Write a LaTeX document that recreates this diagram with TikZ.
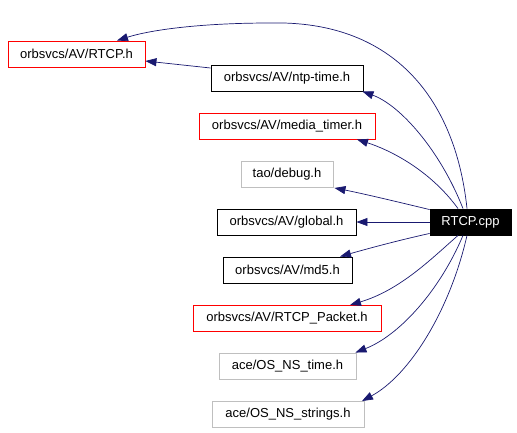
\documentclass[tikz,border=0pt]{standalone}
\usepackage{fontspec}
\setmainfont{Liberation Sans}
\usetikzlibrary{arrows.meta}
\definecolor{edgeblue}{RGB}{25,25,112}
\definecolor{boxred}{RGB}{255,0,0}
\definecolor{boxgray}{RGB}{191,191,191}
\tikzset{
  filebox/.style={draw, line width=0.9pt, inner sep=0pt, minimum height=26pt, font=\fontsize{13}{15}\selectfont},
  redbox/.style={filebox, draw=boxred},
  blackbox/.style={filebox, draw=black},
  graybox/.style={filebox, draw=boxgray},
  mainbox/.style={filebox, draw=black, fill=black, text=white},
  dep/.style={draw=edgeblue, line width=0.7pt, -{Triangle[length=11pt,width=8pt]}, fill=none},
}
\begin{document}
\begin{tikzpicture}[x=1pt,y=-1pt]
\path[use as bounding box] (0,0) rectangle (517,432);
\node[redbox,   minimum width=137pt] (rtcph)  at (76.5,54)  {orbsvcs/AV/RTCP.h};
\node[blackbox, minimum width=152pt] (ntp)    at (287,78)   {orbsvcs/AV/ntp-time.h};
\node[redbox,   minimum width=176pt] (media)  at (287,126)  {orbsvcs/AV/media\_timer.h};
\node[graybox,  minimum width=92pt]  (debug)  at (287,174.5){tao/debug.h};
\node[blackbox, minimum width=139pt] (global) at (286.5,222){orbsvcs/AV/global.h};
\node[mainbox,  minimum width=81pt]  (cpp)    at (470.5,222){RTCP.cpp};
\node[blackbox, minimum width=129pt] (md5)    at (287.5,270){orbsvcs/AV/md5.h};
\node[redbox,   minimum width=188pt] (packet) at (287,318.5){orbsvcs/AV/RTCP\_Packet.h};
\node[graybox,  minimum width=137pt] (ostime) at (287.5,366){ace/OS\_NS\_time.h};
\node[graybox,  minimum width=152pt] (osstr)  at (288,414.5){ace/OS\_NS\_strings.h};

\draw[dep] ([xshift=-3.5pt]cpp.north) .. controls (455,95) and (390,20) .. (270,23)
  .. controls (200,23) and (150,30) .. ([xshift=40.5pt]rtcph.north);
\draw[dep] ([yshift=10pt]ntp.west) -- ([yshift=-7pt]rtcph.east);
\draw[dep] ([xshift=-7.5pt]cpp.north) .. controls (440,150) and (400,105) .. ([xshift=-1pt]ntp.south east);
\draw[dep] ([xshift=-12.5pt]cpp.north) .. controls (430,170) and (390,150) .. ([xshift=70pt]media.south);
\draw[dep] ([yshift=-1pt]cpp.north west) .. controls (390,200) and (360,193) .. ([xshift=1pt]debug.south east);
\draw[dep] (cpp.west) -- (global.east);
\draw[dep] ([yshift=2pt]cpp.south west) .. controls (400,240) and (370,248) .. ([xshift=52.5pt]md5.north);
\draw[dep] ([xshift=-12.5pt]cpp.south) .. controls (430,260) and (400,290) .. ([xshift=63pt]packet.north);
\draw[dep] ([xshift=-7.5pt]cpp.south) .. controls (440,290) and (400,335) .. ([xshift=-1pt]ostime.north east);
\draw[dep] ([xshift=-3.5pt]cpp.south) .. controls (450,310) and (410,375) .. ([xshift=74pt]osstr.north);
\end{tikzpicture}
\end{document}
